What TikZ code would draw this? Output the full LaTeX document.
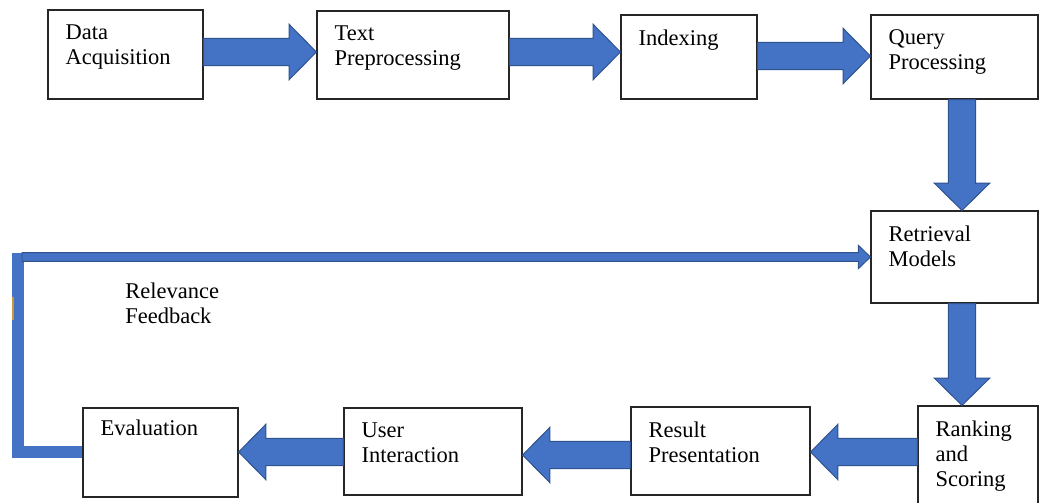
\documentclass[tikz,border=0pt]{standalone}
\usepackage{fontspec}
\setmainfont{Liberation Serif}
\usetikzlibrary{positioning,calc}
\definecolor{irblue}{HTML}{4472C4}
\definecolor{iredge}{HTML}{2F528F}
\definecolor{irgold}{HTML}{C9973A}
\tikzset{
  stage/.style={draw=black!85,line width=0.8pt,fill=white,inner sep=0pt},
  stagetext/.style={inner sep=0pt,align=left,font=\fontsize{16pt}{17.7pt}\selectfont},
  shaftw/.store in=\irshaft,
  headw/.store in=\irhead,
  headl/.store in=\irheadlen,
  blockarrow/.style={draw=iredge,fill=irblue,line width=0.7pt,line join=miter,
    to path={-- ($(\tikztostart)!\irshaft!90:(\tikztotarget)$)
      -- ($(\tikztotarget)!\irheadlen!(\tikztostart)!\irshaft!90:(\tikztotarget)$)
      -- ($(\tikztotarget)!\irheadlen!(\tikztostart)!\irhead!90:(\tikztotarget)$)
      -- (\tikztotarget)
      -- ($(\tikztotarget)!\irheadlen!(\tikztostart)!\irhead!-90:(\tikztotarget)$)
      -- ($(\tikztotarget)!\irheadlen!(\tikztostart)!\irshaft!-90:(\tikztotarget)$)
      -- ($(\tikztostart)!\irshaft!-90:(\tikztotarget)$)
      -- cycle}},
  flowarrow/.style={blockarrow,shaftw=0.34cm,headw=0.69cm,headl=0.68cm},
  feedarrow/.style={blockarrow,shaftw=0.11cm,headw=0.29cm,headl=0.3cm},
  feedline/.style={draw=irblue,line width=0.3cm,line join=miter},
  goldmark/.style={draw=irgold,line width=0.05cm}
}
\begin{document}
\begin{tikzpicture}[x=0.025cm,y=-0.025cm,node distance=0.375cm and 0.45cm]
\useasboundingbox (0,0) rectangle (1040,503);
\clip (0,0) rectangle (1040,503);
\node[stage,minimum width=3.875cm,minimum height=2.225cm] (acq) at (125.5,54.5) {};
\node[stage,minimum width=4.8cm,minimum height=2.2cm] (prep) at (413,55) {};
\node[stage,minimum width=3.4cm,minimum height=2.1cm] (idx) at (689,57) {};
\node[stage,minimum width=4.175cm,minimum height=2.1cm] (qry) at (954.5,57) {};
\node[stage,minimum width=4.175cm,minimum height=2.3cm] (ret) at (954.5,257) {};
\node[stage,minimum width=3.0cm,minimum height=2.6cm] (rank) at (978,458) {};
\node[stage,minimum width=4.475cm,minimum height=2.2cm] (res) at (720.5,451) {};
\node[stage,minimum width=4.45cm,minimum height=2.175cm] (usr) at (433,451.5) {};
\node[stage,minimum width=3.875cm,minimum height=2.225cm] (eva) at (160.5,452.5) {};
\node[stagetext,below right=of acq.north west] (acqtxt) {Data\\Acquisition};
\node[stagetext,below right=of prep.north west] (preptxt) {Text\\Preprocessing};
\node[stagetext,below right=of idx.north west] (idxtxt) {Indexing};
\node[stagetext,below right=of qry.north west] (qrytxt) {Query\\Processing};
\node[stagetext,below right=of ret.north west] (rettxt) {Retrieval\\Models};
\node[stagetext,below right=of rank.north west] (ranktxt) {Ranking\\and\\Scoring};
\node[stagetext,below right=of res.north west] (restxt) {Result\\Presentation};
\node[stagetext,below right=of usr.north west] (usrtxt) {User\\Interaction};
\node[stagetext,below right=0.3cm and 0.45cm of eva.north west] (evatxt) {Evaluation};
\node[stagetext,anchor=north west] (fbtxt) at (125,283) {Relevance\\Feedback};
\coordinate (fbtop) at (18,253);
\coordinate (fbstart) at (22,257);
\draw[flowarrow] (acq.east |- 0,52) to (prep.west |- 0,52);
\draw[flowarrow] (prep.east |- 0,52) to (idx.west |- 0,52);
\draw[flowarrow] (idx.east |- 0,56) to (qry.west |- 0,56);
\draw[flowarrow] (qry.south -| 962,0) to (ret.north -| 962,0);
\draw[flowarrow] (ret.south -| 962,0) to (rank.north -| 962,0);
\draw[flowarrow] (rank.west |- 0,452) to (res.east |- 0,452);
\draw[flowarrow] (res.west |- 0,455) to (usr.east |- 0,455);
\draw[flowarrow] (usr.west |- 0,452) to (eva.east |- 0,452);
\draw[feedline] (eva.west) -| (fbtop);
\draw[feedarrow] (fbstart) to (ret.west);
\draw[goldmark] (13,297) -- (13,320);
\end{tikzpicture}
\end{document}
